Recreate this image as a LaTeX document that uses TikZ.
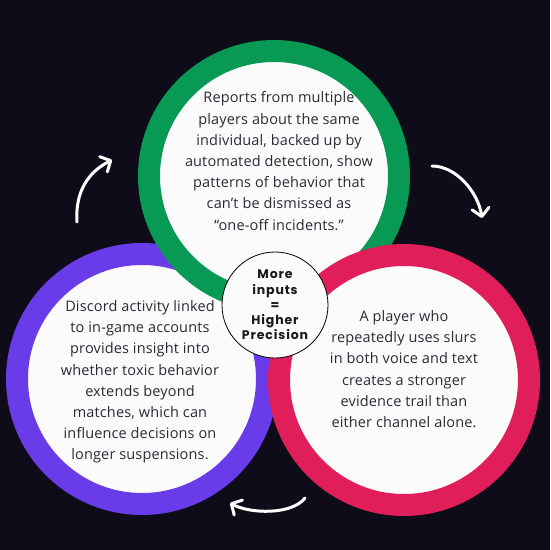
\documentclass[tikz,border=0pt]{standalone}
\usepackage{fontspec}
\setmainfont{Open Sans}[LetterSpace=1]
\newfontfamily\hubfont{Poppins}[UprightFont=* Bold, LetterSpace=7]
\usepackage{xcolor}
\definecolor{night}{HTML}{0E0C19}
\definecolor{leaf}{HTML}{089A55}
\definecolor{berry}{HTML}{E01E5A}
\definecolor{violet}{HTML}{6A3BE8}
\definecolor{ink}{HTML}{2C2A36}
\usetikzlibrary{arrows.meta}

\begin{document}
\begin{tikzpicture}[
    x=1pt, y=-1pt,
    ring/.style={
      circle, draw=#1, fill=white!98!ink, line width=22pt,
      minimum size=250pt, inner sep=0pt
    },
    body/.style={font=\fontsize{14.5}{21.2}\selectfont, text=ink, align=center},
    hub/.style={
      circle, draw=black, fill=white!98!ink, line width=0.8pt,
      minimum size=106pt, inner sep=0pt, align=center,
      font=\hubfont\fontsize{12.5}{15.2}\selectfont, text=black!90
    },
    arr/.style={-{Straight Barb[length=8pt, width=17pt, line cap=round, line join=round]},
      line width=3pt, white, line cap=round},
  ]
  \fill[night] (0,0) rectangle (550,550);
  \useasboundingbox (0,0) rectangle (550,550);

  % the three rings, back to front
  \node[ring=violet] (discord) at (142,379) {};
  \node[ring=leaf] (reports) at (274,176) {};
  \node[ring=berry] (slurs) at (404,380) {};

  \node[body] (reportstxt) at (279,161) {Reports from multiple\\players about the same\\individual, backed up by\\automated detection, show\\patterns of behavior that\\can’t be dismissed as\\“one-off incidents.”};
  \node[body] (discordtxt) at (140,382) {Discord activity linked\\to in-game accounts\\provides insight into\\whether toxic behavior\\extends beyond\\matches, which can\\influence decisions on\\longer suspensions.};
  \node[body] (slurstxt) at (404,369) {A player who\\repeatedly uses slurs\\in both voice and text\\creates a stronger\\evidence trail than\\either channel alone.};

  \node[hub] (hub) at (275,305) {More\\inputs\\=\\Higher\\Precision};

  % cycle arrows
  \coordinate (up0) at (77,222);
  \coordinate (up1) at (112,160);
  \coordinate (rt0) at (432,166);
  \coordinate (rt1) at (482,218);
  \coordinate (dn0) at (305,498);
  \coordinate (dn1) at (230,503);
  \draw[arr] (up0) .. controls (75,192) and (88,172) .. (up1);
  \draw[arr] (rt0) .. controls (456,166) and (478,192) .. (rt1);
  \draw[arr] (dn0) .. controls (292,515) and (250,514) .. (dn1);
\end{tikzpicture}
\end{document}
